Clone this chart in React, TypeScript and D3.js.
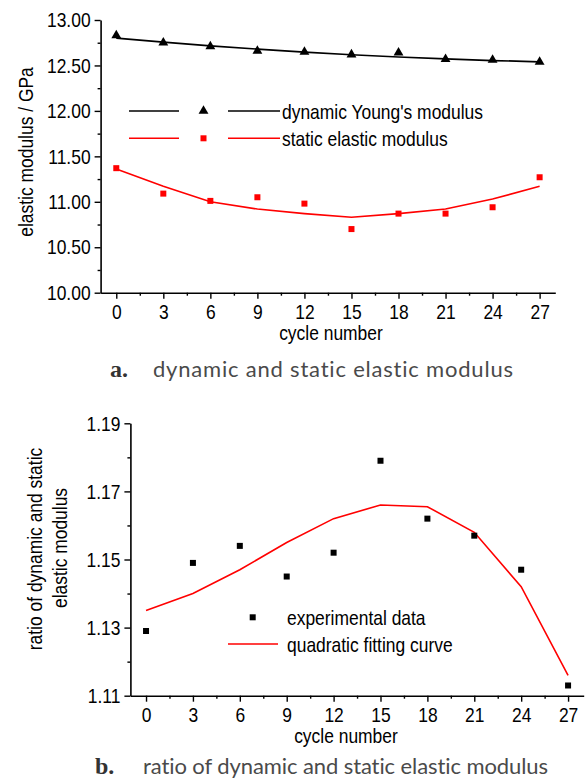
import * as d3 from "d3";
import React, { useEffect, useRef } from "react";

// cycle numbers shared by both panels
const cycles = [0, 3, 6, 9, 12, 15, 18, 21, 24, 27];

// panel a: elastic modulus (GPa)
const dynamicModulus = [12.83, 12.75, 12.71, 12.66, 12.65, 12.62, 12.64, 12.57, 12.56, 12.54];
const dynamicFit = [12.8, 12.756, 12.716, 12.68, 12.647, 12.618, 12.593, 12.572, 12.554, 12.54];
const staticModulus = [11.37, 11.09, 11.01, 11.05, 10.98, 10.7, 10.87, 10.87, 10.94, 11.27];
const staticFit = [11.36, 11.17, 11.0, 10.92, 10.87, 10.83, 10.87, 10.92, 11.03, 11.17];

// panel b: ratio dynamic / static
const ratio = [1.129, 1.149, 1.154, 1.145, 1.152, 1.179, 1.162, 1.157, 1.147, 1.113];
const ratioFit = [1.135, 1.14, 1.147, 1.155, 1.162, 1.166, 1.1655, 1.158, 1.142, 1.116];

const yTicksA = [10, 10.5, 11, 11.5, 12, 12.5, 13];
const yMinorA = [10.25, 10.75, 11.25, 11.75, 12.25, 12.75];
const yTicksB = [1.11, 1.13, 1.15, 1.17, 1.19];
const yMinorB = [1.12, 1.14, 1.16, 1.18];
const xMinor = [1.5, 4.5, 7.5, 10.5, 13.5, 16.5, 19.5, 22.5, 25.5];

const FONT = "'Liberation Sans', Arial, sans-serif";
const CAPTION_FONT = "Lato, 'Open Sans', sans-serif";
const NARROW = 0.83; // the original uses a condensed Arial

// squeeze text horizontally to imitate Arial Narrow
const narrow = (sel: d3.Selection<any, unknown, any, any>) => {
  sel.each(function () {
    const t = this as SVGTextElement;
    if (t.getAttribute("data-narrowed")) return;
    const w = t.getComputedTextLength();
    if (w > 0) {
      t.setAttribute("textLength", String(w * NARROW));
      t.setAttribute("lengthAdjust", "spacingAndGlyphs");
      t.setAttribute("data-narrowed", "1");
    }
  });
};

const styleAxis = (g: d3.Selection<SVGGElement, unknown, null, undefined>) => {
  g.select(".domain").attr("stroke", "#000").attr("stroke-width", 1.6);
  g.selectAll(".tick line").attr("stroke", "#000").attr("stroke-width", 1.4);
  g.selectAll(".tick text")
    .attr("fill", "#000")
    .style("font-family", FONT)
    .style("font-size", "21px");
  narrow(g.selectAll(".tick text"));
};

const Panel: React.FC<{
  x: d3.ScaleLinear<number, number>;
  y: d3.ScaleLinear<number, number>;
  yTicks: number[];
  yMinor: number[];
  yFormat: (d: number) => string;
}> = (props) => {
  const xAxisRef = useRef<SVGGElement | null>(null);
  const yAxisRef = useRef<SVGGElement | null>(null);
  const xMinorRef = useRef<SVGGElement | null>(null);
  const yMinorRef = useRef<SVGGElement | null>(null);
  const x0 = props.x.range()[0];
  const yBottom = props.y.range()[0];

  useEffect(() => {
    if (!xAxisRef.current || !yAxisRef.current) return;
    d3.select(xAxisRef.current)
      .call(d3.axisBottom(props.x).tickValues(cycles).tickSize(6).tickSizeOuter(0).tickPadding(5))
      .call(styleAxis);
    d3.select(yAxisRef.current)
      .call(
        d3.axisLeft(props.y).tickValues(props.yTicks).tickSize(6).tickSizeOuter(0).tickPadding(4)
          .tickFormat((d) => props.yFormat(d as number))
      )
      .call(styleAxis);
    d3.select(xMinorRef.current!)
      .call(d3.axisBottom(props.x).tickValues(xMinor).tickSize(3).tickFormat(() => ""))
      .call(styleAxis)
      .select(".domain").remove();
    d3.select(yMinorRef.current!)
      .call(d3.axisLeft(props.y).tickValues(props.yMinor).tickSize(3).tickFormat(() => ""))
      .call(styleAxis)
      .select(".domain").remove();
  }, []);

  return (
    <g>
      <g ref={xMinorRef} transform={`translate(0, ${yBottom})`}></g>
      <g ref={yMinorRef} transform={`translate(${x0}, 0)`}></g>
      <g ref={xAxisRef} transform={`translate(0, ${yBottom})`}></g>
      <g ref={yAxisRef} transform={`translate(${x0}, 0)`}></g>
    </g>
  );
};

export default function App() {
  const svgRef = useRef<SVGSVGElement | null>(null);

  // panel a scales
  const xA = d3.scaleLinear().domain([-1, 28]).range([100.6, 555.3]);
  const yA = d3.scaleLinear().domain([10, 13]).range([292.7, 20]);
  // panel b scales
  const xB = d3.scaleLinear().domain([-1, 28]).range([130.4, 583.7]);
  const yB = d3.scaleLinear().domain([1.11, 1.19]).range([695.7, 423.3]);

  const lineA = (vals: number[]) =>
    d3.line<number>().x((_, i) => xA(cycles[i])).y((d) => yA(d))(vals) || "";
  const lineB = d3.line<number>().x((_, i) => xB(cycles[i])).y((d) => yB(d))(ratioFit) || "";

  const tri = d3.symbol(d3.symbolTriangle, 42)() || "";
  const sq = 6;

  useEffect(() => {
    if (!svgRef.current) return;
    narrow(d3.select(svgRef.current).selectAll("text.narrow"));
  }, []);

  const textStyle = { fontFamily: FONT, fontSize: "21px", fill: "#000" };
  const captionStyle = { fontFamily: CAPTION_FONT, fontSize: "22px", fill: "#4a4a4a", fontVariantLigatures: "none" };
  const captionLetter = { fontFamily: "'Liberation Serif', serif", fontWeight: "bold", fontSize: "24px", fill: "#333" };

  return (
    <svg ref={svgRef} width={585} height={784} style={{ position: "absolute", left: 0, top: 0, background: "#fff" }}>
      {/* ---------- panel a ---------- */}
      <Panel x={xA} y={yA} yTicks={yTicksA} yMinor={yMinorA} yFormat={d3.format(".2f")} />
      <path d={lineA(dynamicFit)} fill="none" stroke="#000" strokeWidth={1.7} />
      <path d={lineA(staticFit)} fill="none" stroke="#ff0000" strokeWidth={1.6} />
      {dynamicModulus.map((v, i) => (
        <path key={"t" + i} d={tri} transform={`translate(${xA(cycles[i])}, ${yA(v)})`} fill="#000" />
      ))}
      {staticModulus.map((v, i) => (
        <rect key={"s" + i} x={xA(cycles[i]) - sq / 2} y={yA(v) - sq / 2} width={sq} height={sq} fill="#ff0000" />
      ))}

      {/* legend a */}
      <line x1={129} x2={179} y1={111} y2={111} stroke="#000" strokeWidth={1.6} />
      <path d={tri} transform="translate(203.5, 111)" fill="#000" />
      <line x1={228} x2={280} y1={111} y2={111} stroke="#000" strokeWidth={1.6} />
      <text className="narrow" x={282} y={118.5} style={textStyle}>dynamic Young's modulus</text>
      <line x1={129} x2={179} y1={138.3} y2={138.3} stroke="#ff0000" strokeWidth={1.6} />
      <rect x={203.5 - sq / 2} y={138.3 - sq / 2} width={sq} height={sq} fill="#ff0000" />
      <line x1={228} x2={280} y1={138.3} y2={138.3} stroke="#ff0000" strokeWidth={1.6} />
      <text className="narrow" x={282} y={146} style={textStyle}>static elastic modulus</text>

      <text className="narrow" transform="translate(33, 152) rotate(-90)" textAnchor="middle" style={textStyle}>
        elastic modulus / GPa
      </text>
      <text className="narrow" x={331} y={339.5} textAnchor="middle" style={textStyle}>cycle number</text>

      <text x={110} y={376.5} style={captionLetter}>a.</text>
      <text x={153} y={376.5} textLength={360} lengthAdjust="spacing" style={captionStyle}>
        dynamic and static elastic modulus
      </text>

      {/* ---------- panel b ---------- */}
      <Panel x={xB} y={yB} yTicks={yTicksB} yMinor={yMinorB} yFormat={d3.format(".2f")} />
      <path d={lineB} fill="none" stroke="#ff0000" strokeWidth={1.6} />
      {ratio.map((v, i) => (
        <rect key={"r" + i} x={xB(cycles[i]) - sq / 2} y={yB(v) - sq / 2} width={sq} height={sq} fill="#000" />
      ))}

      {/* legend b */}
      <rect x={252.7 - sq / 2} y={617.3 - sq / 2} width={sq} height={sq} fill="#000" />
      <text className="narrow" x={287} y={625} style={textStyle}>experimental data</text>
      <line x1={228} x2={278} y1={644} y2={644} stroke="#ff0000" strokeWidth={1.6} />
      <text className="narrow" x={287} y={651.5} style={textStyle}>quadratic fitting curve</text>

      <text className="narrow" transform="translate(41.7, 549) rotate(-90)" textAnchor="middle" style={textStyle}>
        ratio of dynamic and static
      </text>
      <text className="narrow" transform="translate(66.7, 548) rotate(-90)" textAnchor="middle" style={textStyle}>
        elastic modulus
      </text>
      <text className="narrow" x={346} y={743} textAnchor="middle" style={textStyle}>cycle number</text>

      <text x={95} y={773.5} style={captionLetter}>b.</text>
      <text x={143} y={773.5} textLength={405} lengthAdjust="spacing" style={captionStyle}>
        ratio of dynamic and static elastic modulus
      </text>
    </svg>
  );
}
